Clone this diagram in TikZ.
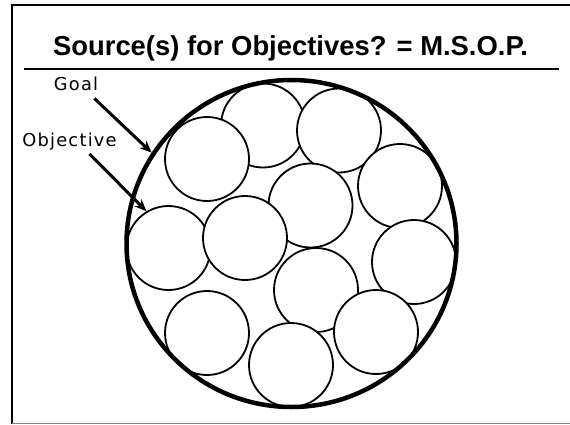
\documentclass[tikz,border=0pt]{standalone}
\usepackage{fontspec}
\setmainfont{Liberation Sans}
\newfontfamily\labelfont{DejaVu Sans}[LetterSpace=7]
\usetikzlibrary{arrows.meta,shapes.geometric}

\tikzset{
	objc/.style={circle, draw, fill=white, line width=1.8pt, minimum size=84pt, inner sep=0pt},
	lbl/.style={font=\labelfont\fontsize{17.8}{20}\selectfont, anchor=base, inner sep=0pt},
	pointer/.style={line width=3pt, -{Stealth[length=12pt,width=10pt]}}
}

\begin{document}
\begin{tikzpicture}[x=1pt,y=-1pt]
\useasboundingbox (0,0) rectangle (570,424);
\draw[line width=2pt] (12,424) -- (12,4.5) -- (570,4.5);
\draw[gray, line width=1.3pt] (12,423.3) -- (570,423.3);
\node[font=\bfseries\fontsize{27.4}{32}\selectfont, anchor=base, inner sep=0pt] (title) at (290.5,55) {Source(s) for Objectives? = M.S.O.P.};
\draw[line width=1.6pt] (24,69) -- (559,69);
\node[objc] (c2) at (263,125.5) {};
\node[objc] (c3) at (339,130.5) {};
\node[objc] (c1) at (207,159) {};
\node[objc] (c4) at (400,186) {};
\node[objc] (c8) at (414,262) {};
\node[objc] (c5) at (310.5,205.5) {};
\node[objc] (c9) at (316,290) {};
\node[objc] (c6) at (168.5,248) {};
\node[objc] (c7) at (245,238) {};
\node[objc] (c10) at (207,333) {};
\node[objc] (c11) at (291,365) {};
\node[objc] (c12) at (376,332) {};
\node[ellipse, draw, line width=4.5pt, minimum width=330pt, minimum height=327pt, inner sep=0pt] (goalc) at (291.5,243.5) {};
\node[lbl] (goal) at (76,90) {Goal};
\node[lbl] (objective) at (69.5,146) {Objective};
\draw[pointer] ([xshift=-4pt,yshift=-8pt]goal.south east) -- (goalc.147);
\draw[pointer] ([xshift=20pt,yshift=-4pt]objective.south) -- (c6.121);
\end{tikzpicture}
\end{document}
